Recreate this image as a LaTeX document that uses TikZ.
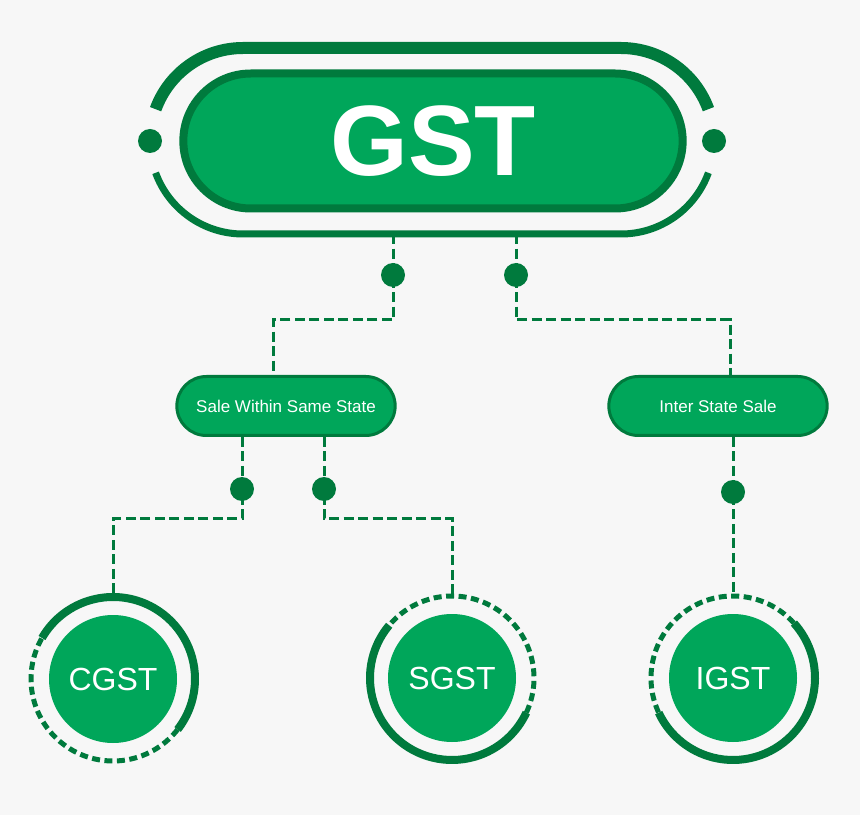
\documentclass[tikz,border=0pt]{standalone}
\usepackage{fontspec}
\setmainfont{Liberation Sans}
\usetikzlibrary{shapes.misc,positioning,calc}
\definecolor{gstgreen}{RGB}{0,166,90}
\definecolor{gstdark}{RGB}{0,122,61}
\definecolor{paper}{RGB}{247,247,247}

\tikzset{
  pill/.style={rounded rectangle, draw=gstdark, line width=3pt, fill=gstgreen,
    text=white, minimum width=225pt, minimum height=59pt,
    font=\fontsize{17}{20}\selectfont},
  knob/.style={circle, fill=gstdark, minimum size=24pt, inner sep=0pt},
  disc/.style={circle, fill=gstgreen, text=white, minimum size=128pt,
    inner sep=0pt, font=\fontsize{32}{36}\selectfont},
  link/.style={gstdark, line width=3pt, dash pattern=on 10pt off 4.5pt},
  ringsolid/.style={gstdark, line width=8pt},
  ringdashed/.style={gstdark, line width=5pt, dash pattern=on 8pt off 4.5pt},
}

\begin{document}
\begin{tikzpicture}[x=1pt,y=1pt]
  \fill[paper] (0,0) rectangle (860,815);
  \useasboundingbox (0,0) rectangle (860,815);

  % GST head
  \node[rounded rectangle, draw=gstdark, line width=8pt, fill=gstgreen, text=white,
        minimum width=506pt, minimum height=135pt,
        font=\fontsize{100}{100}\selectfont\bfseries] (gst) at (433,674) {GST};

  % outer frame round the head
  \node[minimum width=564pt, minimum height=186pt, inner sep=0pt] (frame) at (432,674) {};
  \coordinate (fl) at (243,674);
  \coordinate (fr) at (621,674);
  \draw[gstdark, line width=12pt] ([shift={(160:93)}]fl) arc[start angle=160, end angle=90, radius=93]
      -- ([shift={(90:93)}]fr) arc[start angle=90, end angle=20, radius=93];
  \draw[gstdark, line width=7pt] ([shift={(200:93)}]fl) arc[start angle=200, end angle=270, radius=93]
      -- ([shift={(270:93)}]fr) arc[start angle=270, end angle=340, radius=93];
  \node[knob] (gl) at (150,674) {};
  \node[knob] (gr) at (714,674) {};

  % second level
  \node[knob] (ka) at (393,540) {};
  \node[knob] (kb) at (516,540) {};
  \node[pill] (same) at (286,409) {Sale Within Same State};
  \node[pill] (inter) at (718,409) {Inter State Sale};

  \draw[link] (ka |- frame.south) -- (ka.center) -- ++(0,-45) -| ([xshift=-13pt]same.north);
  \draw[link] (kb |- frame.south) -- (kb.center) -- ++(0,-45) -| ([xshift=12pt]inter.north);

  % taxes
  \node[knob] (kc) at (242,326) {};
  \node[knob] (kd) at (324,326) {};
  \node[knob] (ke) at (733,323) {};
  \node[disc] (cg) at (113,136) {CGST};
  \node[disc] (sg) at (452,137) {SGST};
  \node[disc] (ig) at (733,137) {IGST};

  \draw[link] (kc |- same.south) -- (kc.center) -- ++(0,-30) -| ([yshift=82pt]cg.center);
  \draw[link] (kd |- same.south) -- (kd.center) -- ++(0,-30) -| ([yshift=82pt]sg.center);
  \draw[link] (ke |- inter.south) -- (ke.center) -- ([yshift=82pt]ig.center);

  % rings
  \draw[ringsolid] ([shift={(150:82)}]cg.center) arc[start angle=150, end angle=-38, radius=82];
  \draw[ringdashed] ([shift={(-38:82)}]cg.center) arc[start angle=-38, end angle=-210, radius=82];
  \draw[ringsolid] ([shift={(140:82)}]sg.center) arc[start angle=140, end angle=335, radius=82];
  \draw[ringdashed] ([shift={(-25:82)}]sg.center) arc[start angle=-25, end angle=140, radius=82];
  \draw[ringsolid] ([shift={(42:82)}]ig.center) arc[start angle=42, end angle=-155, radius=82];
  \draw[ringdashed] ([shift={(42:82)}]ig.center) arc[start angle=42, end angle=205, radius=82];
\end{tikzpicture}
\end{document}
